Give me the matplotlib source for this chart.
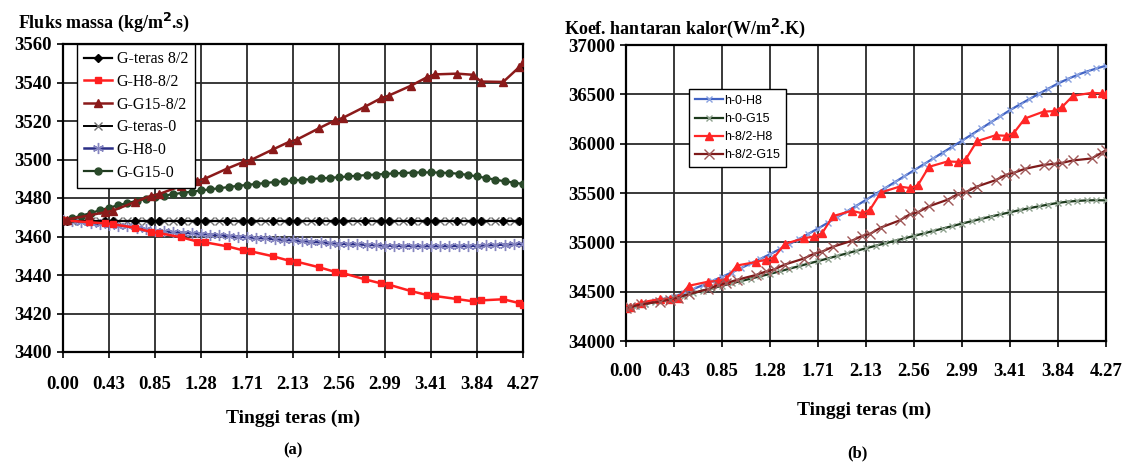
import matplotlib
matplotlib.use("Agg")
import matplotlib.pyplot as plt
import numpy as np

plt.rcParams['font.family'] = ['Liberation Serif', 'DejaVu Serif']

# x axis: tinggi teras (m)
tick_labels = ["0.00", "0.43", "0.85", "1.28", "1.71", "2.13",
               "2.56", "2.99", "3.41", "3.84", "4.27"]
ticks = np.linspace(0, 4.27, len(tick_labels))
x_fine = np.linspace(0, 4.27, 51)   # the "-0" series (evenly spaced)

# ---- (a) Fluks massa ----
G_teras_82 = [3468.3] * 32
G_H8_82 = [3468.5, 3468.3, 3467.4, 3466.8, 3466.4, 3464.5, 3462.3, 3461.8, 3459.6,
           3457.4, 3457.0, 3454.9, 3452.8, 3452.3, 3449.7, 3447.4, 3446.9, 3444.0,
           3441.6, 3441.0, 3437.7, 3435.6, 3435.0, 3431.6, 3429.6, 3429.1, 3427.5,
           3426.3, 3426.8, 3427.4, 3425.4, 3424.3]
G_G15_82 = [3468.5, 3468.8, 3471.0, 3472.6, 3473.4, 3478.0, 3481.2, 3482.0, 3486.3,
            3489.0, 3490.0, 3495.3, 3498.7, 3499.7, 3505.3, 3509.2, 3510.3, 3516.3,
            3520.4, 3521.6, 3527.5, 3531.9, 3533.2, 3538.4, 3542.8, 3544.2, 3544.6,
            3544.0, 3540.5, 3540.3, 3548.0, 3550.5]
G_teras_0 = [3468.3] * 51
G_H8_0 = [3468.5, 3468.0, 3467.6, 3467.1, 3466.6, 3466.1, 3465.6, 3465.2, 3464.6, 3463.8,
          3462.9, 3462.6, 3462.3, 3462.0, 3461.7, 3461.4, 3461.0, 3460.7, 3460.3, 3460.0,
          3459.6, 3459.3, 3459.0, 3458.6, 3458.3, 3458.0, 3457.6, 3457.3, 3456.9, 3456.6,
          3456.3, 3456.1, 3455.9, 3455.7, 3455.5, 3455.3, 3455.2, 3455.1, 3455.1, 3455.0,
          3455.0, 3455.0, 3455.0, 3455.1, 3455.1, 3455.2, 3455.4, 3455.6, 3455.8, 3456.0,
          3456.2]
G_G15_0 = [3468.5, 3469.5, 3470.8, 3472.2, 3473.6, 3475.0, 3476.2, 3477.4, 3478.5, 3479.5,
           3480.4, 3481.2, 3482.0, 3482.7, 3483.3, 3483.9, 3484.5, 3485.1, 3485.7, 3486.3,
           3486.8, 3487.3, 3487.8, 3488.3, 3488.7, 3489.1, 3489.5, 3489.9, 3490.2, 3490.5,
           3490.8, 3491.2, 3491.6, 3491.9, 3492.2, 3492.5, 3492.8, 3493.0, 3493.2, 3493.3,
           3493.3, 3493.2, 3493.0, 3492.6, 3492.0, 3491.2, 3490.4, 3489.5, 3488.7, 3488.0,
           3487.3]

# ---- (b) Koef. hantaran kalor ----
h0_H8 = [34335, 34355, 34378, 34402, 34426, 34450, 34486, 34526, 34566, 34608, 34650,
         34694, 34740, 34786, 34832, 34880, 34930, 34981, 35033, 35086, 35140, 35197,
         35255, 35313, 35371, 35430, 35490, 35550, 35610, 35670, 35730, 35790, 35850,
         35910, 35970, 36030, 36092, 36154, 36216, 36278, 36340, 36396, 36451, 36505,
         36558, 36610, 36655, 36696, 36731, 36762, 36790]
h0_G15 = [34335, 34354, 34374, 34395, 34415, 34435, 34460, 34485, 34510, 34535, 34560,
          34584, 34608, 34632, 34656, 34680, 34706, 34732, 34758, 34784, 34810, 34836,
          34862, 34888, 34914, 34940, 34965, 34990, 35015, 35040, 35065, 35090, 35115,
          35140, 35165, 35190, 35214, 35238, 35261, 35283, 35305, 35326, 35346, 35365,
          35383, 35400, 35412, 35420, 35425, 35427, 35425]
h82_H8 = [34335, 34345, 34390, 34425, 34425, 34435, 34560, 34600, 34610, 34625, 34765,
          34800, 34825, 34845, 34985, 35040, 35060, 35090, 35265, 35320, 35295, 35330,
          35505, 35565, 35550, 35580, 35765, 35820, 35815, 35845, 36025, 36085, 36080,
          36110, 36255, 36325, 36330, 36370, 36485, 36515, 36510, 36500]
h82_G15 = [34335, 34345, 34370, 34400, 34420, 34440, 34475, 34525, 34565, 34585, 34620,
           34668, 34705, 34725, 34775, 34835, 34885, 34905, 34955, 35015, 35065, 35085,
           35150, 35222, 35285, 35305, 35365, 35432, 35490, 35510, 35565, 35630, 35685,
           35705, 35745, 35785, 35795, 35805, 35830, 35850, 35910, 35935]


def x_82(fracs, d=0.035):
    # 8/2 series: a pair of points around every node plus points inside each interval
    xs = []
    for i, t in enumerate(ticks):
        xs += [max(t - d, 0), min(t + d, ticks[-1])]
        if i < len(ticks) - 1:
            step = ticks[i + 1] - t
            xs += [t + f * step for f in fracs]
    return np.array(xs)


def style_axes(ax, ylim, yticks, pad_x):
    ax.set_xlim(0, 4.27)
    ax.set_ylim(*ylim)
    ax.set_xticks(ticks)
    ax.set_xticklabels(tick_labels)
    ax.set_yticks(yticks)
    ax.grid(True, color='#2a2a2a', lw=1.3)
    ax.set_axisbelow(True)
    for s in ax.spines.values():
        s.set_color('black')
        s.set_linewidth(1.6)
    ax.tick_params(axis='x', direction='out', length=4, width=1.2, pad=pad_x,
                   labelsize=13.5)
    ax.tick_params(axis='y', direction='out', length=4, width=1.2, pad=4,
                   labelsize=13.5)
    for lab in ax.get_xticklabels() + ax.get_yticklabels():
        lab.set_fontweight('bold')


fig = plt.figure(figsize=(11.31, 4.63), dpi=100)
W, H = 1131, 463

# ---------------- (a) ----------------
ax1 = fig.add_axes([63 / W, 1 - 352 / H, 460 / W, 308 / H])
xa = x_82([0.57])
ax1.plot(xa, G_teras_82, color='black', lw=1.6, marker='D', ms=4, label='G-teras 8/2', zorder=5)
ax1.plot(xa, G_H8_82, color='#ff1f1f', lw=1.8, marker='s', ms=5, label='G-H8-8/2', zorder=6)
ax1.plot(xa, G_G15_82, color='#8b1a1a', lw=1.8, marker='^', ms=6, label='G-G15-8/2', zorder=6)
ax1.plot(x_fine, G_teras_0, color='black', lw=1.4, marker='x', ms=6, mec='#707070',
         mew=1.0, label='G-teras-0', zorder=4)
ax1.plot(x_fine, G_H8_0, color='#2b2f86', lw=1.8, marker=(6, 2, 0), ms=8, mec='#8585c0',
         mew=1.0, label='G-H8-0', zorder=4)
ax1.plot(x_fine, G_G15_0, color='#1f3a1f', lw=1.6, marker='o', ms=5, mfc='#2a4a2a',
         mec='#2a4a2a', label='G-G15-0', zorder=4)
style_axes(ax1, (3400, 3560), np.arange(3400, 3561, 20), 13)
leg1 = ax1.legend(loc='upper left', bbox_to_anchor=(0.030, 1.0), borderaxespad=0,
                  fontsize=11.5, frameon=True, fancybox=False, edgecolor='black',
                  framealpha=1, handlelength=1.75, handletextpad=0.3,
                  labelspacing=0.42, borderpad=0.45)
leg1.get_frame().set_linewidth(1.0)
leg1.set_zorder(10)

fig.text(18 / W, 1 - 22 / H, 'Fluks massa (kg/m$^{\\mathbf{2}}$.s)', fontsize=13,
         fontweight='bold', ha='left', va='center')
fig.text(293 / W, 1 - 418 / H, 'Tinggi teras (m)', fontsize=14, fontweight='bold',
         ha='center', va='center')
fig.text(293 / W, 1 - 450 / H, '(a)', fontsize=12, fontweight='bold',
         ha='center', va='center')

# ---------------- (b) ----------------
ax2 = fig.add_axes([626 / W, 1 - 341 / H, 480 / W, 296 / H])
xb = x_82([0.31, 0.70])
ax2.plot(x_fine, h0_H8, color='#4163c4', lw=1.6, marker='x', ms=4, mec='#8aa2e0',
         mew=1.0, label='h-0-H8', zorder=4)
ax2.plot(x_fine, h0_G15, color='#1c3a1c', lw=1.6, marker='x', ms=4, mec='#8fa28f',
         mew=1.0, label='h-0-G15', zorder=4)
ax2.plot(xb, h82_H8, color='#ff2626', lw=1.6, marker='^', ms=6, label='h-8/2-H8', zorder=5)
ax2.plot(xb, h82_G15, color='#7e1a1a', lw=1.6, marker='x', ms=7, mec='#a05858',
         mew=1.0, label='h-8/2-G15', zorder=5)
style_axes(ax2, (34000, 37000), np.arange(34000, 37001, 500), 12)
leg2 = ax2.legend(loc='upper left', bbox_to_anchor=(0.131, 0.851), borderaxespad=0,
                  prop={'family': ['Liberation Sans'], 'size': 9},
                  frameon=True, fancybox=False, edgecolor='black', framealpha=1,
                  handlelength=2.3, handletextpad=0.1, labelspacing=0.5, borderpad=0.45)
leg2.get_frame().set_linewidth(1.0)
leg2.set_zorder(10)

fig.text(564 / W, 1 - 28 / H, 'Koef. hantaran kalor(W/m$^{\\mathbf{2}}$.K)', fontsize=13,
         fontweight='bold', ha='left', va='center')
fig.text(864 / W, 1 - 410 / H, 'Tinggi teras (m)', fontsize=14, fontweight='bold',
         ha='center', va='center')
fig.text(857 / W, 1 - 453 / H, '(b)', fontsize=12, fontweight='bold',
         ha='center', va='center')

fig.savefig('out.png', dpi=100)
